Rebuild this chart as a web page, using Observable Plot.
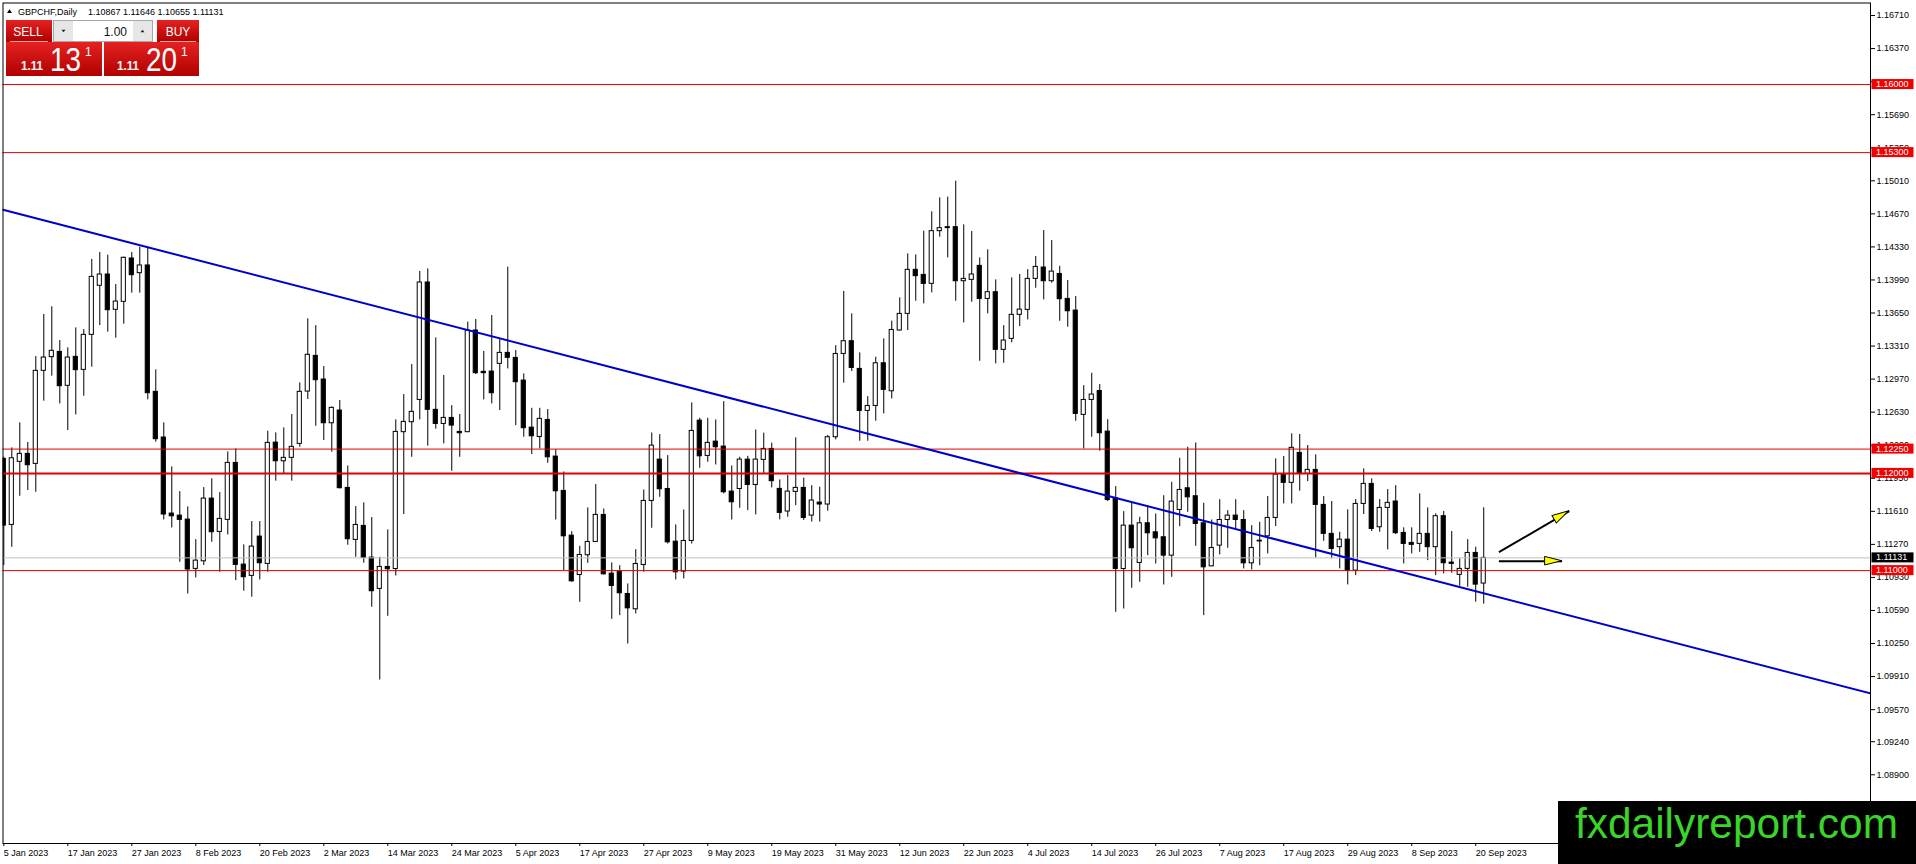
<!DOCTYPE html>
<html>
<head>
<meta charset="utf-8">
<script src="https://cdn.jsdelivr.net/npm/d3@7"></script>
<script src="https://cdn.jsdelivr.net/npm/@observablehq/plot@0.6"></script>
<style>
html,body{margin:0;padding:0;background:#fff;}
#chart{width:1916px;height:864px;overflow:hidden;}
</style>
</head>
<body>
<div id="chart"></div>
<script>
// ---------- data (GBPCHF daily, 5 Jan 2023 .. 21 Sep 2023) ----------
const opens = [
1.12149,1.11470,1.12119,1.12201,1.12098,1.13055,1.13196,1.13250,1.12901,1.13199,
1.13065,1.13425,1.13930,1.14046,1.13683,1.13765,1.14211,1.14060,1.14139,1.12839,
1.12369,1.11587,1.11566,1.11525,1.11018,1.11096,1.11741,1.11398,1.11522,1.12108,
1.11062,1.10946,1.11350,1.11069,1.12317,1.12125,1.12160,1.12304,1.12842,1.13209,
1.12966,1.12516,1.12647,1.11851,1.11316,1.11460,1.11134,1.10812,1.11038,1.11017,
1.12424,1.12527,1.12756,1.13964,1.12654,1.12509,1.12571,1.12427,1.12424,1.13470,
1.13045,1.13048,1.13127,1.13240,1.13188,1.12955,1.12471,1.12375,1.12550,1.12173,
1.11820,1.11360,1.10955,1.11158,1.11295,1.11573,1.10969,1.10990,1.10760,1.10602,
1.11058,1.11717,1.12142,1.11840,1.11298,1.10990,1.11305,1.12543,1.12180,1.12327,
1.12276,1.11813,1.11840,1.12142,1.11881,1.12139,1.12252,1.11841,1.11608,1.11810,
1.11851,1.11566,1.11700,1.11680,1.12372,1.13229,1.13360,1.13075,1.12643,1.12694,
1.13133,1.12845,1.13470,1.13641,1.14094,1.14042,1.13950,1.14492,1.14533,1.14533,
1.13977,1.13991,1.14135,1.13795,1.13864,1.13271,1.13384,1.13631,1.13682,1.14001,
1.14118,1.13977,1.14052,1.13795,1.13675,1.12602,1.12756,1.12848,1.12430,1.11744,
1.11017,1.11463,1.11079,1.11487,1.11394,1.11343,1.11154,1.11624,1.11847,1.11765,
1.11487,1.11044,1.11257,1.11521,1.11566,1.11521,1.11075,1.11300,1.11353,1.11542,
1.11988,1.11903,1.12211,1.11995,1.12036,1.11676,1.11378,1.11241,1.11319,1.11000,
1.11686,1.11892,1.11446,1.11645,1.11711,1.11388,1.11285,1.11275,1.11378,1.11241,
1.11560,1.11083,1.10956,1.11018,1.11182,1.10867];
const highs = [
1.12167,1.12263,1.12520,1.12318,1.13202,1.13635,1.13714,1.13367,1.13292,1.13497,
1.13480,1.14201,1.14273,1.14245,1.13943,1.14225,1.14273,1.14327,1.14327,1.13065,
1.12520,1.12067,1.11813,1.11656,1.11319,1.11854,1.11944,1.11803,1.12221,1.12252,
1.11265,1.11505,1.11505,1.12434,1.12417,1.12468,1.12606,1.12931,1.13590,1.13521,
1.13099,1.12684,1.12750,1.12077,1.11659,1.11697,1.11546,1.11137,1.11419,1.12551,
1.12811,1.13120,1.14077,1.14104,1.13394,1.13007,1.12698,1.12606,1.13556,1.13583,
1.13254,1.13624,1.13377,1.14122,1.13264,1.13024,1.12670,1.12670,1.12657,1.12245,
1.12015,1.11401,1.11250,1.11645,1.11885,1.11634,1.11079,1.11051,1.10863,1.11216,
1.11830,1.12416,1.12399,1.12183,1.11470,1.11624,1.12725,1.12567,1.12567,1.12550,
1.12739,1.12077,1.12166,1.12176,1.12447,1.12414,1.12311,1.11933,1.11978,1.12366,
1.11951,1.11875,1.11858,1.12390,1.13315,1.13871,1.13641,1.13240,1.12790,1.13195,
1.13384,1.13566,1.13806,1.14258,1.14248,1.14492,1.14691,1.14835,1.14842,1.15006,
1.14557,1.14488,1.14217,1.14300,1.13991,1.13521,1.14012,1.14046,1.14097,1.14231,
1.14498,1.14395,1.14131,1.13984,1.13819,1.12903,1.13030,1.12914,1.12553,1.11864,
1.11607,1.11693,1.11548,1.11669,1.11583,1.11771,1.11909,1.12156,1.12269,1.12313,
1.11693,1.11521,1.11730,1.11617,1.11730,1.11617,1.11463,1.11497,1.11762,1.12150,
1.12174,1.12407,1.12400,1.12287,1.12191,1.11762,1.11711,1.11395,1.11625,1.11731,
1.12047,1.11944,1.11731,1.11834,1.11875,1.11440,1.11440,1.11789,1.11645,1.11584,
1.11608,1.11402,1.11121,1.11319,1.11241,1.11646];
const lows = [
1.11052,1.11240,1.11765,1.11824,1.11806,1.12743,1.13000,1.12715,1.12441,1.12602,
1.12794,1.13093,1.13521,1.13453,1.13391,1.13535,1.13854,1.13854,1.12757,1.12321,
1.11522,1.11439,1.11086,1.10760,1.10925,1.11052,1.11292,1.10983,1.11367,1.10897,
1.10788,1.10726,1.10904,1.10983,1.11920,1.11995,1.11920,1.12269,1.12760,1.12485,
1.12338,1.12218,1.11840,1.11261,1.11137,1.11076,1.10623,1.09875,1.10530,1.10945,
1.11577,1.12166,1.12551,1.12280,1.12455,1.12304,1.12022,1.12166,1.12420,1.13017,
1.12756,1.12715,1.12647,1.13075,1.12492,1.12372,1.12194,1.12252,1.12104,1.11521,
1.11000,1.10880,1.10674,1.11075,1.11290,1.10955,1.10499,1.10537,1.10245,1.10554,
1.10983,1.11436,1.11754,1.11274,1.10904,1.10914,1.11274,1.12053,1.12115,1.12087,
1.11789,1.11521,1.11641,1.11617,1.11573,1.12000,1.11851,1.11522,1.11549,1.11669,
1.11515,1.11500,1.11500,1.11611,1.12345,1.12928,1.13048,1.12331,1.12331,1.12537,
1.12612,1.12766,1.13465,1.13470,1.13771,1.13744,1.13857,1.14430,1.14217,1.13771,
1.13548,1.13761,1.13154,1.13641,1.13127,1.13133,1.13343,1.13510,1.13579,1.13905,
1.13785,1.13956,1.13565,1.13504,1.12536,1.12252,1.12372,1.12228,1.11710,1.10571,
1.10605,1.10818,1.10880,1.11154,1.11068,1.10852,1.10931,1.11452,1.11600,1.11250,
1.10537,1.11040,1.11161,1.11230,1.11428,1.11017,1.11007,1.11051,1.11172,1.11453,
1.11686,1.11686,1.11817,1.11916,1.11131,1.11302,1.11121,1.11018,1.10853,1.10949,
1.11577,1.11402,1.11395,1.11213,1.11371,1.11069,1.11172,1.11189,1.11103,1.10949,
1.10966,1.10973,1.10839,1.10829,1.10675,1.10655];
const closes = [
1.11463,1.12156,1.12201,1.12084,1.13055,1.13192,1.13261,1.12897,1.13192,1.13062,
1.13425,1.14022,1.14046,1.13679,1.13768,1.14218,1.14039,1.14139,1.12825,1.12352,
1.11577,1.11559,1.11522,1.11011,1.11103,1.11741,1.11395,1.11532,1.12108,1.11059,
1.10932,1.11247,1.11076,1.12314,1.12125,1.12160,1.12273,1.12839,1.13220,1.12959,
1.12516,1.12674,1.11848,1.11323,1.11470,1.11131,1.10788,1.11038,1.11014,1.12427,
1.12530,1.12633,1.13964,1.12654,1.12509,1.12571,1.12492,1.12413,1.13470,1.13031,
1.13031,1.12825,1.13240,1.13189,1.12938,1.12465,1.12382,1.12561,1.12166,1.11816,
1.11353,1.10890,1.11161,1.11295,1.11573,1.10962,1.10842,1.10767,1.10612,1.11068,
1.11717,1.12286,1.11837,1.11291,1.10983,1.11305,1.12437,1.12176,1.12314,1.12269,
1.11806,1.11703,1.12142,1.11881,1.12142,1.12252,1.11920,1.11594,1.11813,1.11851,
1.11542,1.11721,1.11680,1.12372,1.13229,1.13360,1.13085,1.12643,1.12694,1.13133,
1.12859,1.13476,1.13641,1.14094,1.14029,1.13950,1.14492,1.14523,1.14523,1.13977,
1.14001,1.14046,1.13795,1.13864,1.13271,1.13367,1.13631,1.13685,1.14001,1.14124,
1.13977,1.14076,1.13792,1.13668,1.12612,1.12756,1.12811,1.12413,1.11727,1.11017,
1.11463,1.11230,1.11487,1.11384,1.11332,1.11154,1.11710,1.11830,1.11754,1.11480,
1.11034,1.11233,1.11521,1.11566,1.11521,1.11075,1.11233,1.11308,1.11542,1.11988,
1.11903,1.12263,1.11995,1.12036,1.11676,1.11378,1.11223,1.11319,1.11000,1.11686,
1.11892,1.11429,1.11645,1.11697,1.11385,1.11275,1.11265,1.11378,1.11241,1.11560,
1.11076,1.11069,1.11018,1.11182,1.10856,1.11131];

const xTickBars = [0,8,16,24,32,40,48,56,64,72,80,88,96,104,112,120,128,136,144,152,160,168,176,184];
const xTickLabels = ["5 Jan 2023","17 Jan 2023","27 Jan 2023","8 Feb 2023","20 Feb 2023","2 Mar 2023",
  "14 Mar 2023","24 Mar 2023","5 Apr 2023","17 Apr 2023","27 Apr 2023","9 May 2023","19 May 2023",
  "31 May 2023","12 Jun 2023","22 Jun 2023","4 Jul 2023","14 Jul 2023","26 Jul 2023","7 Aug 2023",
  "17 Aug 2023","29 Aug 2023","8 Sep 2023","20 Sep 2023"];
const yTicks = [1.16710,1.16370,1.16030,1.15690,1.15350,1.15010,1.14670,1.14330,1.13990,1.13650,
  1.13310,1.12970,1.12630,1.12290,1.11950,1.11610,1.11270,1.10930,1.10590,1.10250,1.09910,
  1.09570,1.09240,1.08900];
const xDomain = [-0.1, 233.35];
const yDomain = [1.08193, 1.16839];

const levels = [1.16000, 1.15300, 1.12250, 1.11000];
const keyLevel = 1.12000;
const currentPrice = 1.11131;
const askPrice = 1.11201;
const trendBars = [-0.1, 233.35];
const trendPrices = [1.14712, 1.09737];
const arrowStartBars = [186.9, 186.9];
const arrowStartPrices = [1.11190, 1.11097];
const arrowEndBars = [195.7, 194.8];
const arrowEndPrices = [1.11611, 1.11097];
const symbolLabel = "GBPCHF,Daily";
const brand = "fxdailyreport.com";

// ---------- tables ----------
const bars = opens.map((o, i) => ({i, open: o, high: highs[i], low: lows[i], close: closes[i]}));
const upBars = bars.filter(d => d.close >= d.open);
const downBars = bars.filter(d => d.close < d.open);
const trend = trendBars.map((b, k) => ({bar: b, price: trendPrices[k]}));
const arrows = arrowStartBars.map((b, k) => ({x1: b, y1: arrowStartPrices[k], x2: arrowEndBars[k], y2: arrowEndPrices[k]}));
const labelOf = new Map(xTickBars.map((b, k) => [b, xTickLabels[k]]));

const FONT = "'Liberation Sans', Arial, sans-serif";

const chart = Plot.plot({
  width: 1916, height: 864,
  marginLeft: 2.5, marginRight: 46, marginTop: 2.5, marginBottom: 21,
  style: {background: "#fff", color: "#000", fontFamily: FONT, fontSize: "9px"},
  x: {type: "linear", domain: xDomain},
  y: {type: "linear", domain: yDomain},
  marks: [
    Plot.ruleX(bars, {x: "i", y1: "low", y2: "high", stroke: "#000", strokeWidth: 1, clip: true}),
    Plot.rect(upBars, {x1: d => d.i - 0.26, x2: d => d.i + 0.26, y1: "open", y2: "close", fill: "#fff", stroke: "#000", strokeWidth: 1, clip: true}),
    Plot.rect(downBars, {x1: d => d.i - 0.26, x2: d => d.i + 0.26, y1: "open", y2: "close", fill: "#000", stroke: "#000", strokeWidth: 1, clip: true}),
    Plot.ruleY([currentPrice], {stroke: "#c0c0c0", strokeWidth: 1}),
    Plot.ruleY(levels, {stroke: "#e00000", strokeWidth: 1}),
    Plot.ruleY([keyLevel], {stroke: "#e00000", strokeWidth: 2}),
    Plot.line(trend, {x: "bar", y: "price", stroke: "#0000cd", strokeWidth: 2, clip: true}),
    Plot.link(arrows, {x1: "x1", y1: "y1", x2: "x2", y2: "y2", stroke: "#000", strokeWidth: 2}),
    Plot.frame({stroke: "#000"}),
    Plot.axisY({anchor: "right", ticks: yTicks, tickFormat: d => d.toFixed(5), tickSize: 4, tickPadding: 2, label: null}),
    Plot.axisX({anchor: "bottom", ticks: xTickBars, tickFormat: d => labelOf.get(d), tickSize: 3, tickPadding: 3, textAnchor: "start", label: null})
  ]
});
document.getElementById("chart").appendChild(chart);

// ---------- overlays drawn with the plot's own scales ----------
const xs = chart.scale("x"), ys = chart.scale("y");
const svg = d3.select(chart);
const axisX0 = xs.range[1];
const g = svg.append("g").attr("font-family", FONT).attr("text-anchor", "start");

function priceBox(p, bg) {
  const y = ys.apply(p);
  g.append("rect").attr("x", axisX0 + 1.5).attr("y", y - 5).attr("width", 42).attr("height", 10).attr("fill", bg);
  g.append("text").attr("x", axisX0 + 6).attr("y", y).attr("dy", "0.34em").attr("font-size", 9)
    .attr("text-anchor", "start").attr("fill", "#fff").text(p.toFixed(5));
}
[...levels, keyLevel].forEach(p => priceBox(p, "#f00000"));
priceBox(currentPrice, "#000");

arrows.forEach(a => {
  const x1 = xs.apply(a.x1), y1 = ys.apply(a.y1), x2 = xs.apply(a.x2), y2 = ys.apply(a.y2);
  const ang = Math.atan2(y2 - y1, x2 - x1) * 180 / Math.PI;
  g.append("path").attr("d", "M0,0L-17,-4.3L-17,4.3Z")
    .attr("transform", `translate(${x2},${y2}) rotate(${ang})`)
    .attr("fill", "#ffff00").attr("stroke", "#000").attr("stroke-width", 1);
});

// ---------- trading panel (top-left) ----------
const last = bars[bars.length - 1];
const defs = svg.append("defs");
const grad = defs.append("linearGradient").attr("id", "redgrad").attr("x1", 0).attr("y1", 0).attr("x2", 0).attr("y2", 1);
grad.append("stop").attr("offset", 0).attr("stop-color", "#e52222");
grad.append("stop").attr("offset", 1).attr("stop-color", "#b00000");

const ui = svg.append("g").attr("font-family", FONT).attr("text-anchor", "start");
ui.append("path").attr("d", "M7,13L9.5,9.2L12,13Z").attr("fill", "#000");
ui.append("text").attr("x", 18).attr("y", 15).attr("font-size", 9).attr("fill", "#000").text(symbolLabel);
ui.append("text").attr("x", 88).attr("y", 15).attr("font-size", 9).attr("fill", "#000")
  .text([last.open, last.high, last.low, last.close].map(v => v.toFixed(5)).join(" "));

function redBox(x, y, w, h) { ui.append("rect").attr("x", x).attr("y", y).attr("width", w).attr("height", h).attr("fill", "url(#redgrad)"); }
redBox(6, 20, 46, 22);
redBox(157, 20, 42, 22);
redBox(6, 42, 96, 34);
redBox(104, 42, 95, 34);
ui.append("line").attr("x1", 10).attr("x2", 48).attr("y1", 41.5).attr("y2", 41.5).attr("stroke", "#f4a0a0");
ui.append("line").attr("x1", 160).attr("x2", 196).attr("y1", 41.5).attr("y2", 41.5).attr("stroke", "#f4a0a0");
ui.append("text").attr("x", 28).attr("y", 35.5).attr("text-anchor", "middle").attr("font-size", 12).attr("fill", "#fff").text("SELL");
ui.append("text").attr("x", 178).attr("y", 35.5).attr("text-anchor", "middle").attr("font-size", 12).attr("fill", "#fff").text("BUY");
// lot control
ui.append("rect").attr("x", 53.5).attr("y", 20.5).attr("width", 99).attr("height", 21).attr("fill", "#fff").attr("stroke", "#a8a8a8");
ui.append("rect").attr("x", 54).attr("y", 21).attr("width", 19).attr("height", 20).attr("fill", "#e6e6e6");
ui.append("rect").attr("x", 133).attr("y", 21).attr("width", 19).attr("height", 20).attr("fill", "#e6e6e6");
ui.append("path").attr("d", "M61.5,29.8L65.5,29.8L63.5,32.3Z").attr("fill", "#222");
ui.append("path").attr("d", "M140.5,32.3L144.5,32.3L142.5,29.8Z").attr("fill", "#222");
ui.append("text").attr("x", 127).attr("y", 35.5).attr("text-anchor", "end").attr("font-size", 12).attr("fill", "#111").text("1.00");

function quote(x0, price) {
  const s = price.toFixed(5);
  ui.append("text").attr("x", x0 + 15).attr("y", 70).attr("font-size", 13).attr("font-weight", "bold")
    .attr("textLength", 22).attr("lengthAdjust", "spacingAndGlyphs").attr("fill", "#fff").text(s.slice(0, 4));
  ui.append("text").attr("x", x0 + 44).attr("y", 70.5).attr("font-size", 33)
    .attr("textLength", 31).attr("lengthAdjust", "spacingAndGlyphs").attr("fill", "#fff").text(s.slice(4, 6));
  ui.append("text").attr("x", x0 + 79).attr("y", 56).attr("font-size", 12).attr("fill", "#fff").text(s.slice(6));
}
quote(6, last.close);
quote(102, askPrice);

// ---------- brand box ----------
svg.append("rect").attr("x", 1558).attr("y", 801).attr("width", 358).attr("height", 63).attr("fill", "#000");
svg.append("text").attr("x", 1575).attr("y", 838).attr("font-family", FONT).attr("font-size", 42).attr("text-anchor", "start")
  .attr("textLength", 323).attr("lengthAdjust", "spacingAndGlyphs").attr("fill", "#3bd42b").text(brand);
</script>
</body>
</html>
